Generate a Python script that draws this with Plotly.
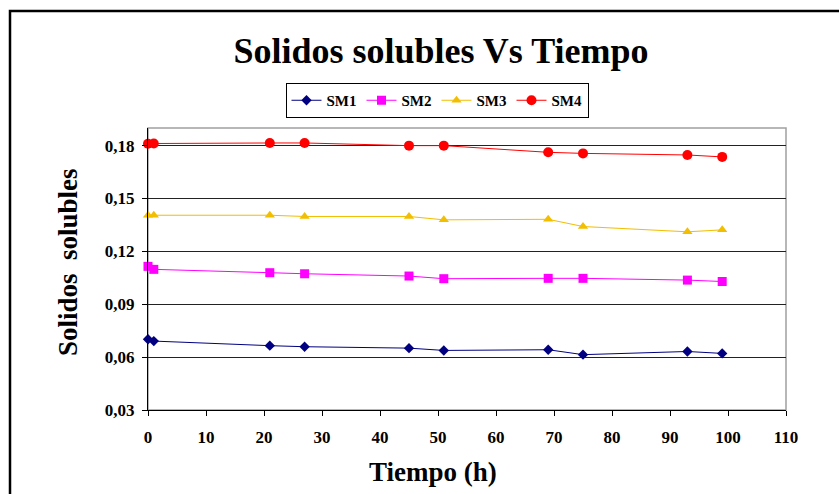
import plotly.graph_objects as go

tiempo = [0, 1, 21, 27, 45, 51, 69, 75, 93, 99]
sm1 = [0.0701, 0.0691, 0.0665, 0.0659, 0.0651, 0.0638, 0.0642, 0.0614, 0.0632, 0.0621]
sm2 = [0.1115, 0.1098, 0.1079, 0.1073, 0.1060, 0.1045, 0.1047, 0.1047, 0.1037, 0.1029]
sm3 = [0.1405, 0.1405, 0.1405, 0.1398, 0.1398, 0.1379, 0.1382, 0.1341, 0.1311, 0.1322]
sm4 = [0.1811, 0.1812, 0.1815, 0.1815, 0.1800, 0.1800, 0.1762, 0.1756, 0.1747, 0.1736]
x_ticks = list(range(0, 111, 10))
y_ticks = [0.03, 0.06, 0.09, 0.12, 0.15, 0.18]

FONT = "Liberation Serif"
W, H = 839, 494
L, R, T, B = 148, 53, 128, 84
pw, ph = W - L - R, H - T - B

def px_x(p):
    return (p - L) / pw

def px_y(p):
    return (H - B - p) / ph

def f(size):
    return dict(family=FONT, size=size, color="black", weight=700)

fig = go.Figure()
series = [
    ("SM1", sm1, "#000080", "diamond", 8),
    ("SM2", sm2, "#FF00FF", "square", 9),
    ("SM3", sm3, "#F2BE00", "triangle-up", 9),
    ("SM4", sm4, "#FF0000", "circle", 10),
]
for name, vals, col, sym, sz in series:
    fig.add_trace(go.Scatter(
        x=tiempo, y=vals, name=name, mode="lines+markers",
        line=dict(color=col, width=1),
        marker=dict(color=col, symbol=sym, size=sz, line=dict(width=0)),
        cliponaxis=False,
    ))

fig.update_layout(
    width=W, height=H,
    margin=dict(l=L, r=R, t=T, b=B),
    paper_bgcolor="white", plot_bgcolor="white",
    separators=",.",
    title=dict(text="Solidos solubles Vs Tiempo", font=f(36),
               x=441 / W, xanchor="center", y=1 - 50 / H, yanchor="middle", xref="container", yref="container"),
    legend=dict(orientation="h", x=px_x(437), xanchor="center", y=px_y(83), yanchor="top",
                bordercolor="black", borderwidth=1, bgcolor="white",
                font=f(15), itemwidth=30, tracegroupgap=0),
    xaxis=dict(range=[0, 110], tickvals=x_ticks, ticks="outside", ticklen=5, tickcolor="black",
               showline=True, linecolor="black", linewidth=1, showgrid=False, zeroline=False,
               tickfont=f(17), ticklabelstandoff=7),
    yaxis=dict(range=[0.03, 0.19], tickvals=y_ticks, tickformat=".2f", ticks="outside", ticklen=5,
               tickcolor="black", showline=True, linecolor="black", linewidth=1,
               showgrid=True, gridcolor="#222222", gridwidth=1, zeroline=False,
               tickfont=f(17), ticklabelstandoff=4),
    showlegend=True,
)

fig.add_shape(type="rect", xref="paper", yref="paper", x0=0, x1=1, y0=0, y1=1,
              line=dict(color="#A0A0A0", width=1.5), layer="below")
fig.add_shape(type="rect", xref="paper", yref="paper", x0=px_x(10), x1=px_x(W + 20),
              y0=px_y(H + 20), y1=px_y(11), line=dict(color="black", width=2.5), layer="below")

fig.add_annotation(text="Solidos&nbsp; solubles", textangle=-90, xref="paper", yref="paper",
                   x=px_x(68), y=px_y(262), showarrow=False, xanchor="center", yanchor="middle",
                   font=f(27))
fig.add_annotation(text="Tiempo (h)", xref="paper", yref="paper",
                   x=px_x(433), y=px_y(472), showarrow=False, xanchor="center", yanchor="middle",
                   font=f(27))

fig.write_html("out.html")
